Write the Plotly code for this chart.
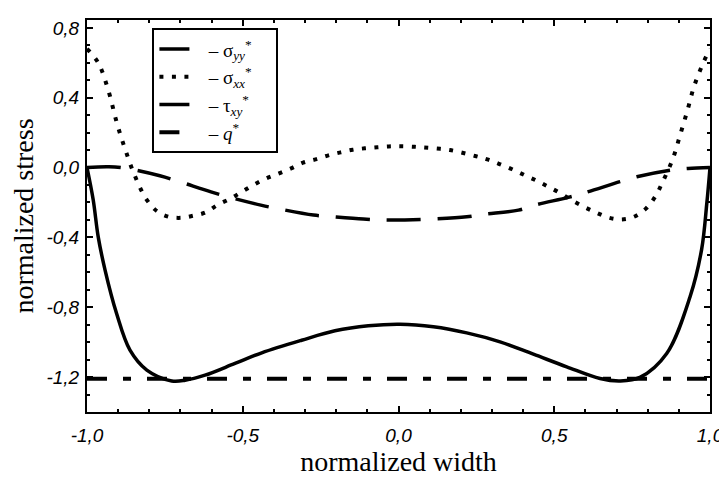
import plotly.graph_objects as go

# sigma_yy* (dashed)
syy_x = [-1.0, -0.93, -0.873, -0.766, -0.712, -0.602, -0.549, -0.442, -0.389, -0.273,
         -0.220, -0.113, -0.056, 0.02, 0.107, 0.219, 0.272, 0.385, 0.438, 0.545,
         0.599, 0.711, 0.765, 0.877, 0.93, 1.0]
syy_y = [0.0, 0.005, -0.005, -0.047, -0.076, -0.139, -0.167, -0.215, -0.235, -0.272,
         -0.280, -0.295, -0.300, -0.300, -0.295, -0.282, -0.268, -0.244, -0.215, -0.171,
         -0.144, -0.081, -0.053, -0.014, -0.005, 0.0]

# sigma_xx* (dotted)
sxx_x = [-1.0, -0.964, -0.934, -0.903, -0.877, -0.849, -0.811, -0.776, -0.737, -0.698,
         -0.659, -0.619, -0.582, -0.54, -0.503, -0.466, -0.425, -0.386, -0.345, -0.306,
         -0.266, -0.225, -0.186, -0.147, -0.108, -0.068, -0.031, 0.0, 0.04, 0.08,
         0.165, 0.246, 0.285, 0.324, 0.365, 0.404, 0.444, 0.481, 0.521, 0.559,
         0.599, 0.636, 0.677, 0.717, 0.756, 0.795, 0.824, 0.846, 0.880, 0.904,
         0.928, 0.950, 0.981, 1.0]
sxx_y = [0.68, 0.60, 0.457, 0.248, 0.102, -0.036, -0.177, -0.249, -0.282, -0.288,
         -0.276, -0.257, -0.215, -0.178, -0.139, -0.100, -0.062, -0.035, -0.005, 0.028,
         0.047, 0.070, 0.087, 0.102, 0.110, 0.116, 0.121, 0.122, 0.12, 0.115,
         0.10, 0.066, 0.047, 0.02, -0.01, -0.043, -0.076, -0.11, -0.148, -0.19,
         -0.228, -0.259, -0.288, -0.297, -0.282, -0.234, -0.167, -0.09, 0.047, 0.186,
         0.33, 0.471, 0.61, 0.68]

# tau_xy* (solid)
txy_x = [-1.0, -0.98, -0.964, -0.942, -0.905, -0.862, -0.808, -0.728, -0.685, -0.621,
         -0.525, -0.439, -0.311, -0.204, -0.097, 0.005, 0.112, 0.219, 0.326, 0.433,
         0.540, 0.647, 0.711, 0.775, 0.861, 0.936, 0.973, 0.99, 1.0]
txy_y = [0.0, -0.186, -0.397, -0.587, -0.836, -1.046, -1.160, -1.222, -1.218, -1.189,
         -1.122, -1.061, -0.989, -0.935, -0.906, -0.897, -0.912, -0.947, -0.998, -1.069,
         -1.141, -1.208, -1.222, -1.202, -1.065, -0.74, -0.47, -0.2, 0.0]

# q* (dash-dot)
q_x = [-1.0, 1.0]
q_y = [-1.21, -1.21]

x_tickvals = [-1.0, -0.5, 0.0, 0.5, 1.0]
x_ticktext = ["-1,0", "-0,5", "0,0", "0,5", "1,0"]
y_tickvals = [-1.2, -0.8, -0.4, 0.0, 0.4, 0.8]
y_ticktext = ["-1,2", "-0,8", "-0,4", "0,0", "0,4", "0,8"]

pad_l = "\u00a0\u00a0\u00a0"
pad_r = "\u00a0\u00a0\u00a0\u00a0"
names = [pad_l + "– σ<sub><i>yy</i></sub><sup>*</sup>" + pad_r,
         pad_l + "– σ<sub><i>xx</i></sub><sup>*</sup>" + pad_r,
         pad_l + "– τ<sub><i>xy</i></sub><sup>*</sup>" + pad_r,
         pad_l + "– <i>q</i><sup>*</sup>" + pad_r]

fig = go.Figure()
fig.add_trace(go.Scatter(x=syy_x, y=syy_y, mode="lines", name=names[0],
                         line=dict(color="black", width=3.5, dash="34px,17px", shape="spline")))
fig.add_trace(go.Scatter(x=sxx_x, y=sxx_y, mode="lines", name=names[1],
                         line=dict(color="black", width=4, dash="4px,8.5px", shape="spline")))
fig.add_trace(go.Scatter(x=txy_x, y=txy_y, mode="lines", name=names[2],
                         line=dict(color="black", width=3.5, shape="spline")))
fig.add_trace(go.Scatter(x=q_x, y=q_y, mode="lines", name=names[3],
                         line=dict(color="black", width=4, dash="20px,16px,8px,16px")))

tickfont = dict(family="Liberation Sans", size=19, color="black", style="italic")
axis_common = dict(showline=True, linecolor="black", linewidth=2, mirror="ticks",
                   ticks="inside", ticklen=6, tickwidth=1.5, tickcolor="black",
                   showgrid=False, zeroline=False, tickfont=tickfont, automargin=False)

fig.update_xaxes(range=[-1.0, 1.0], tickmode="array", tickvals=x_tickvals, ticktext=x_ticktext,
                 minor=dict(dtick=0.1, tick0=0, ticks="inside", ticklen=3, tickwidth=1.5,
                            tickcolor="black", showgrid=False),
                 title=dict(text="normalized width", standoff=10,
                            font=dict(family="Liberation Serif", size=28, color="black")),
                 ticklabelstandoff=5,
                 **axis_common)
fig.update_yaxes(range=[-1.40, 0.845], tickmode="array", tickvals=y_tickvals, ticktext=y_ticktext,
                 minor=dict(dtick=0.1, tick0=0, ticks="inside", ticklen=3, tickwidth=1.5,
                            tickcolor="black", showgrid=False),
                 title=dict(text="normalized stress", standoff=8,
                            font=dict(family="Liberation Serif", size=28, color="black")),
                 ticklabelstandoff=2,
                 **axis_common)

# page body adds an 8px offset; the figure is sized so the plot lands where the reference has it
fig.update_layout(
    width=719, height=469,
    margin=dict(l=79, r=17, t=12, b=65),
    plot_bgcolor="white", paper_bgcolor="white",
    showlegend=True,
    legend=dict(x=0.105, y=0.979, xanchor="left", yanchor="top",
                bgcolor="white", bordercolor="black", borderwidth=2,
                font=dict(family="Liberation Serif", size=19, color="black"),
                tracegroupgap=0),
)

fig.write_html("out.html")
